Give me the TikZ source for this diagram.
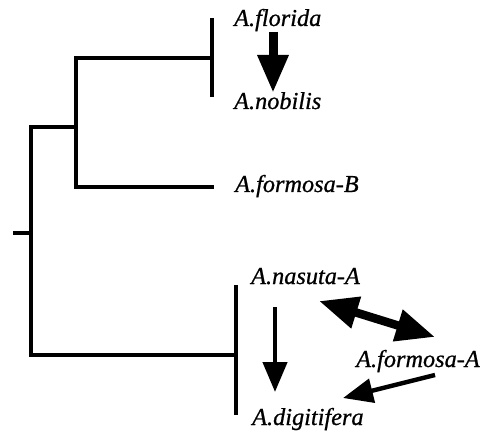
\documentclass[tikz,border=0pt]{standalone}
\usepackage{fontspec}
\setmainfont{Liberation Serif}[ItalicFeatures={FakeBold=0.8}]
\usetikzlibrary{arrows.meta}
\begin{document}
\begin{tikzpicture}[x=1pt,y=-1pt,
  branch/.style={line width=3.4pt},
  taxon/.style={anchor=base west,inner sep=0pt,font=\fontsize{24.3}{28}\selectfont\itshape},
  bigflow/.style={line width=9pt,-{Triangle[length=38pt,width=29pt]}},
  flow/.style={line width=4.4pt,-{Triangle[length=30pt,width=24pt]}},
  twoway/.style={line width=8.5pt,{Triangle[length=39pt,width=31pt]}-{Triangle[length=39pt,width=31pt]}}]
\useasboundingbox (0,0) rectangle (492,435);

% tree skeleton
\coordinate (root) at (13,233);
\coordinate (r) at (31,233);
\coordinate (u) at (76,127);
\coordinate (uu) at (212,58);
\coordinate (ub) at (214,187);
\coordinate (lo) at (236,355);

\draw[branch] (root) -- (r);
\draw[branch] (u) -- (31,127) -- (31,355) -- (lo);
\draw[branch] (uu) -- (76,58) -- (76,187) -- (ub);
\draw[branch] (212,18) -- (212,97);
\draw[branch] (236,285) -- (236,415);

% taxon labels
\node[taxon] (flo) at (234,26) {A.florida};
\node[taxon] (nob) at (234,109) {A.nobilis};
\node[taxon] (forB) at (235,192) {A.formosa-B};
\node[taxon] (nas) at (251,284) {A.nasuta-A};
\node[taxon] (forA) at (356,367) {A.formosa-A};
\node[taxon] (dig) at (252,425) {A.digitifera};

% exchange arrows
\coordinate (f1) at (273,32);
\coordinate (f2) at (273,93);
\coordinate (n1) at (275,307);
\coordinate (n2) at (275,392);
\coordinate (d1) at (319,301);
\coordinate (d2) at (435,337);
\coordinate (a1) at (435,375);
\coordinate (a2) at (343,398);

\draw[bigflow] (f1) -- (f2);
\draw[flow] (n1) -- (n2);
\draw[twoway] (d1) -- (d2);
\draw[flow] (a1) -- (a2);
\end{tikzpicture}
\end{document}
